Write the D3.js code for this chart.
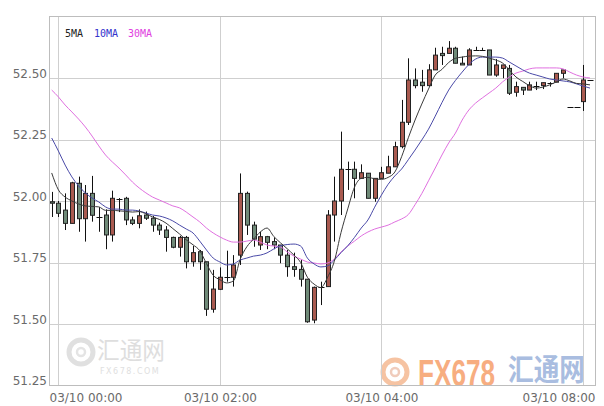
<!DOCTYPE html>
<html><head><meta charset="utf-8">
<script src="https://cdn.jsdelivr.net/npm/d3@7"></script>
<style>body{margin:0;background:#fff}svg{display:block}</style>
</head><body><svg id="c" width="604" height="406"></svg>
<script>
const opens=[51.997,51.991,51.963,51.909,52.072,51.928,52.031,51.936,51.943,51.862,
52.010,52.011,51.923,51.909,51.943,51.930,51.902,51.882,51.852,51.812,
51.852,51.753,51.794,51.753,51.560,51.641,51.690,51.690,51.780,52.031,
51.902,51.821,51.855,51.835,51.821,51.780,51.733,51.722,51.682,51.516,
51.652,51.652,51.943,52.000,52.129,52.129,52.092,52.113,52.011,52.092,
52.113,52.139,52.221,52.320,52.492,52.483,52.469,52.533,52.600,52.600,
52.621,52.560,52.553,52.614,52.614,52.614,52.512,52.539,52.539,52.442,
52.462,52.451,52.469,52.469,52.481,52.483,52.519,52.383,52.383,52.404,52.492];
const highs=[52.037,52.000,52.031,52.078,52.099,52.065,52.102,51.975,51.966,52.042,
52.012,52.017,51.936,51.966,51.957,51.939,51.912,51.898,51.855,51.858,
51.858,51.817,51.801,51.753,51.720,51.730,51.798,51.780,52.112,52.038,
51.916,51.875,51.858,51.852,51.821,51.801,51.790,51.760,51.682,51.652,
51.672,51.963,52.099,52.282,52.160,52.160,52.149,52.113,52.092,52.139,
52.184,52.241,52.411,52.580,52.539,52.533,52.556,52.623,52.627,52.650,
52.627,52.587,52.621,52.627,52.623,52.614,52.577,52.553,52.553,52.485,
52.462,52.485,52.485,52.481,52.483,52.519,52.533,52.383,52.383,52.553,52.492];
const lows=[51.935,51.935,51.882,51.909,51.875,51.835,51.916,51.875,51.804,51.835,
51.955,51.902,51.902,51.889,51.923,51.875,51.862,51.794,51.808,51.774,
51.726,51.733,51.720,51.533,51.546,51.638,51.672,51.652,51.740,51.862,
51.814,51.801,51.804,51.804,51.747,51.692,51.692,51.652,51.505,51.503,
51.577,51.652,51.835,51.943,52.045,52.011,52.092,52.011,51.997,52.092,
52.113,52.139,52.214,52.309,52.458,52.444,52.465,52.533,52.553,52.600,
52.560,52.553,52.553,52.614,52.614,52.512,52.505,52.499,52.431,52.424,
52.431,52.451,52.451,52.455,52.465,52.483,52.499,52.383,52.383,52.366,52.492];
const closes=[51.991,51.950,51.909,52.074,51.928,52.031,51.942,51.936,51.862,52.011,
52.010,51.923,51.909,51.940,51.930,51.902,51.882,51.852,51.812,51.852,
51.753,51.790,51.753,51.560,51.642,51.690,51.690,51.740,52.031,51.902,
51.845,51.855,51.832,51.821,51.780,51.733,51.722,51.682,51.509,51.649,
51.652,51.943,52.000,52.129,52.129,52.092,52.115,52.011,52.092,52.115,
52.139,52.221,52.320,52.492,52.469,52.469,52.533,52.593,52.591,52.621,
52.560,52.553,52.614,52.614,52.614,52.512,52.553,52.553,52.438,52.465,
52.451,52.472,52.469,52.481,52.481,52.519,52.533,52.383,52.383,52.492,52.492];
const ma5=[52.114,52.045,52.016,52.000,51.988,51.980,51.978,51.976,51.962,51.962,
51.960,51.958,51.955,51.957,51.948,51.935,51.925,51.910,51.888,51.866,
51.842,51.822,51.798,51.746,51.698,51.680,51.667,51.675,51.762,51.814,
51.845,51.874,51.890,51.856,51.830,51.806,51.780,51.750,51.690,51.662,
51.648,51.690,51.755,51.872,51.968,52.056,52.092,52.096,52.090,52.088,
52.096,52.118,52.180,52.257,52.329,52.394,52.455,52.512,52.535,52.563,
52.580,52.585,52.589,52.590,52.588,52.581,52.573,52.561,52.533,52.504,
52.486,52.469,52.459,52.463,52.472,52.484,52.496,52.488,52.478,52.476,52.472];
const ma10=[52.256,52.203,52.146,52.098,52.061,52.033,52.012,51.996,51.976,51.967,
51.967,51.963,51.963,51.959,51.951,51.943,51.939,51.931,51.919,51.902,
51.886,51.870,51.837,51.801,51.768,51.752,51.740,51.744,51.760,51.768,
51.776,51.780,51.789,51.805,51.818,51.823,51.825,51.817,51.768,51.744,
51.732,51.736,51.760,51.790,51.818,51.852,51.890,51.923,51.975,52.024,
52.068,52.102,52.130,52.168,52.207,52.248,52.292,52.345,52.400,52.451,
52.490,52.524,52.555,52.577,52.585,52.585,52.585,52.581,52.565,52.549,
52.533,52.520,52.512,52.504,52.496,52.492,52.488,52.484,52.476,52.467,52.459];
const ma30=[52.451,52.423,52.390,52.362,52.333,52.301,52.264,52.224,52.187,52.159,
52.134,52.106,52.077,52.053,52.033,52.016,52.004,51.992,51.980,51.972,
51.955,51.935,51.915,51.890,51.870,51.854,51.841,51.833,51.833,51.837,
51.841,51.833,51.821,51.817,51.813,51.793,51.776,51.764,51.752,51.748,
51.744,51.748,51.764,51.793,51.817,51.837,51.858,51.874,51.886,51.894,
51.902,51.915,51.927,51.945,51.985,52.030,52.082,52.134,52.187,52.236,
52.276,52.329,52.370,52.398,52.419,52.439,52.459,52.484,52.504,52.520,
52.528,52.537,52.541,52.541,52.541,52.541,52.537,52.524,52.512,52.504,52.500];
const xTickIndex=[1,25,49,79];
const xTickLabels=["03/10 00:00","03/10 02:00","03/10 04:00","03/10 08:00"];
const yTicks=[51.25,51.50,51.75,52.00,52.25,52.50];
const legendLabels=["5MA","10MA","30MA"];

const svg=d3.select("#c");
const L=49,R=595,T=16,B=385;
const x=d3.scaleLinear().domain([0,80]).range([51.7,590]);
const y=d3.scaleLinear().domain([51.25,52.75]).range([385.5,16.5]);

svg.append("rect").attr("width",604).attr("height",406).attr("fill","#fff");

// watermarks
const wm=svg.append("g");
const lg=wm.append("g");
lg.append("circle").attr("cx",81).attr("cy",352).attr("r",12).attr("fill","none").attr("stroke","#e0e0e0").attr("stroke-width",5);
lg.append("circle").attr("cx",81).attr("cy",352).attr("r",4).attr("fill","none").attr("stroke","#e4e4e4").attr("stroke-width",2.5);
lg.append("text").attr("x",97).attr("y",359).attr("font-family","Noto Sans CJK SC").attr("font-size",24)
  .attr("textLength",68).attr("lengthAdjust","spacingAndGlyphs").attr("fill","#dedede").text("汇通网");
lg.append("text").attr("x",100).attr("y",374).attr("font-family","DejaVu Sans").attr("font-size",8).attr("letter-spacing",1.5).attr("fill","#e0e0e0").text("FX678.COM");
const rg=wm.append("g");
rg.append("circle").attr("cx",395).attr("cy",372).attr("r",12).attr("fill","none").attr("stroke","#f6c3a2").attr("stroke-width",5);
rg.append("circle").attr("cx",395).attr("cy",372).attr("r",4).attr("fill","none").attr("stroke","#f0ccbc").attr("stroke-width",2.5);
rg.append("g").attr("transform","translate(418,386) scale(1,1.4)")
  .append("text").attr("font-family","Liberation Sans").attr("font-weight","bold").attr("font-size",26)
  .attr("textLength",77).attr("lengthAdjust","spacingAndGlyphs").attr("fill","#f7ad80").text("FX678");
rg.append("g").attr("transform","translate(508,380) scale(1,1.15)")
  .append("text").attr("font-family","Noto Sans CJK SC").attr("font-weight","bold").attr("font-size",26)
  .attr("textLength",77).attr("lengthAdjust","spacingAndGlyphs").attr("fill","#a9bde0").text("汇通网");

// grid
const grid=svg.append("g").attr("stroke","#cfcfcf").attr("stroke-width",1);
yTicks.filter(d=>d>51.25).forEach(d=>{
  const yy=Math.round(y(d))+0.5;
  grid.append("line").attr("x1",L).attr("x2",R).attr("y1",yy).attr("y2",yy);
});
xTickIndex.forEach(i=>{
  const xx=Math.round(x(i))+0.5;
  grid.append("line").attr("x1",xx).attr("x2",xx).attr("y1",T).attr("y2",B);
});
svg.append("rect").attr("x",L+0.5).attr("y",T+0.5).attr("width",R-L).attr("height",B-T).attr("fill","none").attr("stroke","#bdbdbd");

// axes
const ya=svg.append("g").attr("transform",`translate(${L},0)`)
  .call(d3.axisLeft(y).tickValues(yTicks).tickFormat(d3.format(".2f")).tickSize(0).tickPadding(2));
ya.select(".domain").remove();
ya.selectAll("text").attr("dy","-0.05em").attr("font-family","DejaVu Sans").attr("font-size",12).attr("fill","#6a6a6a");
const xa=svg.append("g").attr("transform",`translate(0,${B})`)
  .call(d3.axisBottom(x).tickValues(xTickIndex).tickFormat((d,i)=>xTickLabels[i]).tickSize(0).tickPadding(8));
xa.select(".domain").remove();
xa.selectAll("text").attr("font-family","DejaVu Sans").attr("font-size",12).attr("fill","#6a6a6a")
  .attr("text-anchor",(d,i)=>i===0?"start":(i===xTickIndex.length-1?"end":"middle"))
  .attr("x",(d,i)=>i===0?L-x(d):(i===xTickIndex.length-1?R-x(d):0));

// candles
const idx=d3.range(opens.length);
const bw=5;
const cg=svg.append("g");
cg.selectAll("line.w").data(idx).join("line")
  .attr("x1",i=>Math.round(x(i))+0.5).attr("x2",i=>Math.round(x(i))+0.5)
  .attr("y1",i=>y(highs[i])).attr("y2",i=>y(lows[i]))
  .attr("stroke","#111").attr("stroke-width",1);
cg.selectAll("rect.b").data(idx.filter(i=>Math.abs(closes[i]-opens[i])>0.002)).join("rect")
  .attr("x",i=>Math.round(x(i))-2+0.5).attr("width",bw-1)
  .attr("y",i=>y(Math.max(opens[i],closes[i]))).attr("height",i=>Math.abs(y(opens[i])-y(closes[i])))
  .attr("fill",i=>closes[i]>=opens[i]?"#a95a50":"#6f8a78").attr("stroke","#222").attr("stroke-width",1);
cg.selectAll("line.d").data(idx.filter(i=>Math.abs(closes[i]-opens[i])<=0.002)).join("line")
  .attr("x1",i=>Math.round(x(i))-2.5).attr("x2",i=>Math.round(x(i))+3.5)
  .attr("y1",i=>Math.round(y(opens[i]))+0.5).attr("y2",i=>Math.round(y(opens[i]))+0.5)
  .attr("stroke","#111").attr("stroke-width",1);

// moving averages
const line=d3.line().x((d,i)=>x(i)).y(d=>y(d)).curve(d3.curveMonotoneX);
[[ma30,"#e070e0"],[ma10,"#4a4aa8"],[ma5,"#3a3a3a"]].forEach(([arr,col])=>{
  svg.append("path").attr("d",line(arr)).attr("fill","none").attr("stroke",col).attr("stroke-width",1);
});

// legend
const legColors=["#222","#3333cc","#e040e0"];
const legX=[65,94,128];
legendLabels.forEach((t,i)=>{
  svg.append("text").attr("x",legX[i]).attr("y",37).attr("font-family","DejaVu Sans Mono").attr("font-size",10)
   .attr("fill",legColors[i]).text(t);
});
</script></body></html>
